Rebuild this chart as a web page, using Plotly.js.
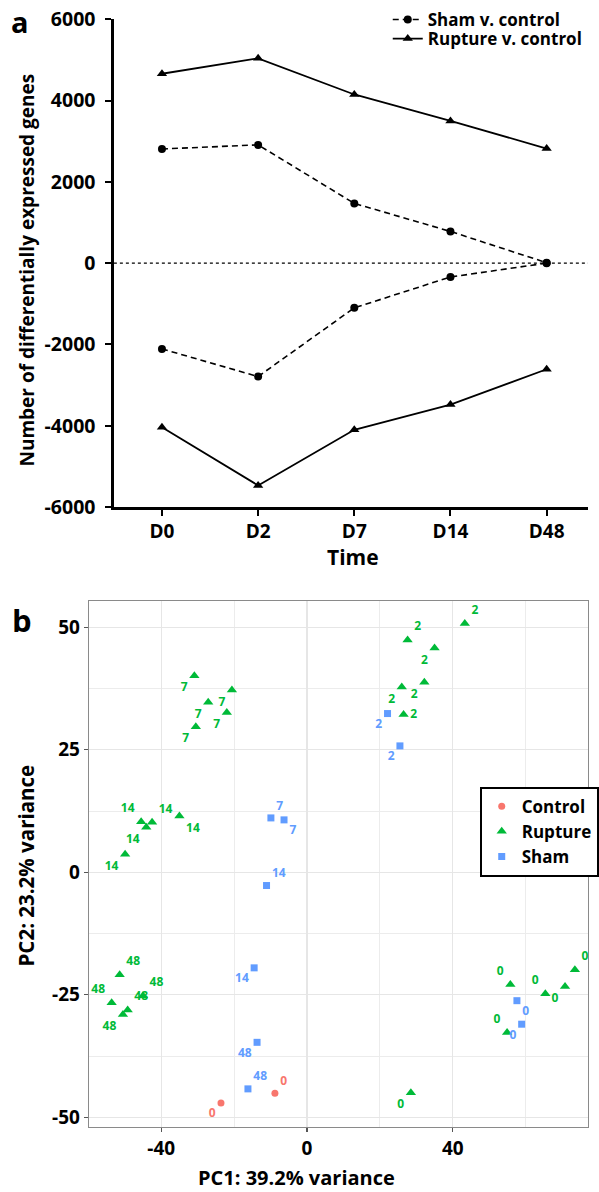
<!DOCTYPE html>
<html>
<head>
<meta charset="utf-8">
<script src="https://cdn.plot.ly/plotly-3.0.1.min.js"></script>
<style>html,body{margin:0;padding:0;background:#fff;}#chart{width:599px;height:1192px;}</style>
</head>
<body>
<div id="chart"></div>
<script>
// ---------- Panel a data ----------
const days = ['D0', 'D2', 'D7', 'D14', 'D48'];
const shamUp = [2810, 2910, 1470, 780, 10];
const shamDown = [-2110, -2790, -1100, -340, 0];
const ruptureUp = [4660, 5040, 4150, 3500, 2820];
const ruptureDown = [-4040, -5470, -4100, -3480, -2610];
const yTickVals = [-6000, -4000, -2000, 0, 2000, 4000, 6000];
const yTickText = ['-6000', '-4000', '-2000', '0', '2000', '4000', '6000'];

// ---------- Panel b data ----------
const controlPC1 = [-23.6, -8.8];
const controlPC2 = [-47.1, -45.1];
const controlLabels = ['0', '0'];
const controlPos = ['bottom left', 'top right'];

const rupturePC1 = [-30.9, -27.1, -20.6, -22.0, -30.5,
                    -45.5, -44.1, -42.5, -35.0, -49.9,
                    43.3, 27.6, 35.0, 26.0, 32.2, 26.5,
                    -51.4, -53.6, -45.0, -49.2, -50.5,
                    55.8, 65.4, 70.8, 73.5, 54.9, 28.5];
const rupturePC2 = [40.1, 34.7, 37.2, 32.6, 29.7,
                    10.3, 9.2, 10.2, 11.5, 3.7,
                    50.8, 47.4, 45.8, 37.8, 38.8, 32.2,
                    -20.9, -26.6, -25.2, -28.1, -29.0,
                    -22.9, -24.8, -23.3, -19.9, -32.7, -45.0];
const ruptureLabels = ['7', '7', '7', '7', '7',
                       '14', '14', '14', '14', '14',
                       '2', '2', '2', '2', '2', '2',
                       '48', '48', '48', '48', '48',
                       '0', '0', '0', '0', '0', '0'];
const rupturePos = ['bottom left', 'bottom left', 'bottom left', 'bottom left', 'bottom left',
                    'top left', 'bottom left', 'top right', 'bottom right', 'bottom left',
                    'top right', 'top right', 'bottom left', 'bottom left', 'bottom left', 'middle right',
                    'top right', 'top left', 'top right', 'top right', 'bottom left',
                    'top left', 'top left', 'bottom left', 'top right', 'top left', 'bottom left'];

const shamPC1 = [-9.9, -6.3, -11.1, 22.1, 25.5, -14.5, -13.7, -16.2, 57.6, 58.9];
const shamPC2 = [11.1, 10.7, -2.7, 32.4, 25.8, -19.5, -34.7, -44.2, -26.2, -31.0];
const shamLabels = ['7', '7', '14', '2', '2', '14', '48', '48', '0', '0'];
const shamPos = ['top right', 'bottom right', 'top right', 'bottom left', 'bottom left',
                 'bottom left', 'bottom left', 'top right', 'bottom right', 'bottom left'];
const pcTickVals = [-50, -25, 0, 25, 50];
const pcTickText = ['-50', '-25', '0', '25', '50'];

const W = 599, H = 1192;
const px = v => v / W;
const py = v => 1 - v / H;
const FONT = 'Open Sans, Noto Sans, sans-serif';
const cCtrl = '#F8766D', cRup = '#00BA38', cSham = '#619CFF';

const traces = [
  {x: days, y: shamUp, type: 'scatter', mode: 'lines+markers', name: 'Sham v. control',
   xaxis: 'x', yaxis: 'y', legend: 'legend', legendgroup: 'sham',
   line: {color: '#000', width: 1.6, dash: '6px,4px'},
   marker: {symbol: 'circle', size: 8, color: '#000'}},
  {x: days, y: ruptureUp, type: 'scatter', mode: 'lines+markers', name: 'Rupture v. control',
   xaxis: 'x', yaxis: 'y', legend: 'legend3', legendgroup: 'rup',
   line: {color: '#000', width: 1.8},
   marker: {symbol: 'triangle-up', size: 9, color: '#000'}},
  {x: days, y: shamDown, type: 'scatter', mode: 'lines+markers', name: 'Sham v. control',
   xaxis: 'x', yaxis: 'y', showlegend: false, legendgroup: 'sham',
   line: {color: '#000', width: 1.6, dash: '6px,4px'},
   marker: {symbol: 'circle', size: 8, color: '#000'}},
  {x: days, y: ruptureDown, type: 'scatter', mode: 'lines+markers', name: 'Rupture v. control',
   xaxis: 'x', yaxis: 'y', showlegend: false, legendgroup: 'rup',
   line: {color: '#000', width: 1.8},
   marker: {symbol: 'triangle-up', size: 9, color: '#000'}},

  {x: controlPC1, y: controlPC2, text: controlLabels, textposition: controlPos,
   type: 'scatter', mode: 'markers+text', name: 'Control', xaxis: 'x2', yaxis: 'y2', legend: 'legend2',
   marker: {symbol: 'circle', size: 7, color: cCtrl},
   textfont: {family: FONT, size: 12, color: cCtrl, weight: 700}, cliponaxis: false},
  {x: rupturePC1, y: rupturePC2, text: ruptureLabels, textposition: rupturePos,
   type: 'scatter', mode: 'markers+text', name: 'Rupture', xaxis: 'x2', yaxis: 'y2', legend: 'legend2',
   marker: {symbol: 'triangle-up', size: 9, color: cRup},
   textfont: {family: FONT, size: 12, color: cRup, weight: 700}, cliponaxis: false},
  {x: shamPC1, y: shamPC2, text: shamLabels, textposition: shamPos,
   type: 'scatter', mode: 'markers+text', name: 'Sham', xaxis: 'x2', yaxis: 'y2', legend: 'legend2',
   marker: {symbol: 'square', size: 7, color: cSham},
   textfont: {family: FONT, size: 12, color: cSham, weight: 700}, cliponaxis: false}
];

const legendFont = {family: FONT, size: 17, color: '#000', weight: 700};

const layout = {
  width: W, height: H,
  margin: {l: 0, r: 0, t: 0, b: 0},
  paper_bgcolor: '#fff', plot_bgcolor: 'rgba(0,0,0,0)',
  font: {family: FONT, color: '#000'},
  xaxis: {
    domain: [px(116), 1], anchor: 'y', type: 'category', range: [-0.5, 4.43],
    showline: true, linecolor: '#000', linewidth: 2.5, ticks: 'outside', ticklen: 6, tickwidth: 2,
    tickcolor: '#000', tickfont: {family: FONT, size: 19, color: '#000', weight: 700},
    showgrid: false, zeroline: false, automargin: false
  },
  yaxis: {
    domain: [py(507), py(19.3)], anchor: 'x', range: [-6000, 6000],
    tickvals: yTickVals, ticktext: yTickText, ticklabelstandoff: 6,
    showline: true, linecolor: '#000', linewidth: 2.5, ticks: 'outside', ticklen: 6, tickwidth: 2,
    tickcolor: '#000', tickfont: {family: FONT, size: 19.5, color: '#000', weight: 700},
    showgrid: false, zeroline: false, automargin: false
  },
  xaxis2: {
    domain: [px(90.7), 1], anchor: 'y2', range: [-59.8, 77.1],
    tickvals: [-40, 0, 40], ticktext: ['-40', '0', '40'],
    minor: {tickvals: [-20, 20, 60], showgrid: true, gridcolor: '#ececec', gridwidth: 1, ticks: ''},
    showgrid: true, gridcolor: '#e6e6e6', gridwidth: 1.3,
    showline: true, mirror: true, linecolor: '#8a8a8a', linewidth: 1.3,
    ticks: 'outside', ticklen: 4, tickwidth: 1.3, tickcolor: '#555',
    tickfont: {family: FONT, size: 19, color: '#000', weight: 700}, zeroline: false, automargin: false
  },
  yaxis2: {
    domain: [py(1126.7), py(601)], anchor: 'x2', range: [-51.92, 55.37],
    tickvals: pcTickVals, ticktext: pcTickText,
    minor: {tickvals: [-37.5, -12.5, 12.5, 37.5], showgrid: true, gridcolor: '#ececec', gridwidth: 1, ticks: ''},
    showgrid: true, gridcolor: '#e6e6e6', gridwidth: 1.3,
    showline: true, mirror: true, linecolor: '#8a8a8a', linewidth: 1.3,
    ticks: 'outside', ticklen: 4, tickwidth: 1.3, tickcolor: '#555',
    tickfont: {family: FONT, size: 19, color: '#000', weight: 700}, zeroline: false, automargin: false
  },
  legend: {
    x: px(395), xanchor: 'left', y: py(2), yanchor: 'top', bgcolor: 'rgba(0,0,0,0)',
    font: legendFont, itemwidth: 30, borderwidth: 0
  },
  legend3: {
    x: px(395), xanchor: 'left', y: py(21), yanchor: 'top', bgcolor: 'rgba(0,0,0,0)',
    font: legendFont, itemwidth: 30, borderwidth: 0
  },
  legend2: {
    x: px(488.7), xanchor: 'left', y: py(786.7), yanchor: 'top', bgcolor: '#fff',
    bordercolor: '#000', borderwidth: 2,
    font: legendFont, tracegroupgap: 0, itemwidth: 30
  },
  shapes: [
    {type: 'line', xref: 'x domain', yref: 'y', x0: 0, x1: 1, y0: 0, y1: 0,
     line: {color: '#000', width: 1.3, dash: 'dot'}, layer: 'below'}
  ],
  annotations: [
    {text: 'a', xref: 'paper', yref: 'paper', x: px(20), y: py(0.5), showarrow: false,
     font: {family: FONT, size: 29, color: '#000', weight: 700}, xanchor: 'center', yanchor: 'top'},
    {text: 'b', xref: 'paper', yref: 'paper', x: px(22.5), y: py(620), showarrow: false,
     font: {family: FONT, size: 31, color: '#000', weight: 700}, xanchor: 'center', yanchor: 'middle'},
    {text: 'Number of differentially expressed genes', xref: 'paper', yref: 'paper', x: px(27), y: py(270),
     showarrow: false, textangle: -90, xanchor: 'center', yanchor: 'middle',
     font: {family: FONT, size: 19, color: '#000', weight: 700}},
    {text: 'Time', xref: 'paper', yref: 'paper', x: px(360), y: py(557), showarrow: false,
     xanchor: 'center', yanchor: 'middle', font: {family: FONT, size: 21, color: '#000', weight: 700}},
    {text: 'PC2: 23.2% variance', xref: 'paper', yref: 'paper', x: px(26), y: py(866),
     showarrow: false, textangle: -90, xanchor: 'center', yanchor: 'middle',
     font: {family: FONT, size: 20.5, color: '#000', weight: 700}},
    {text: 'PC1: 39.2% variance', xref: 'paper', yref: 'paper', x: px(302.5), y: py(1177.5),
     showarrow: false, xanchor: 'center', yanchor: 'middle',
     font: {family: FONT, size: 20, color: '#000', weight: 700}}
  ]
};

Plotly.newPlot('chart', traces, layout, {displayModeBar: false, staticPlot: true});
</script>
</body>
</html>
